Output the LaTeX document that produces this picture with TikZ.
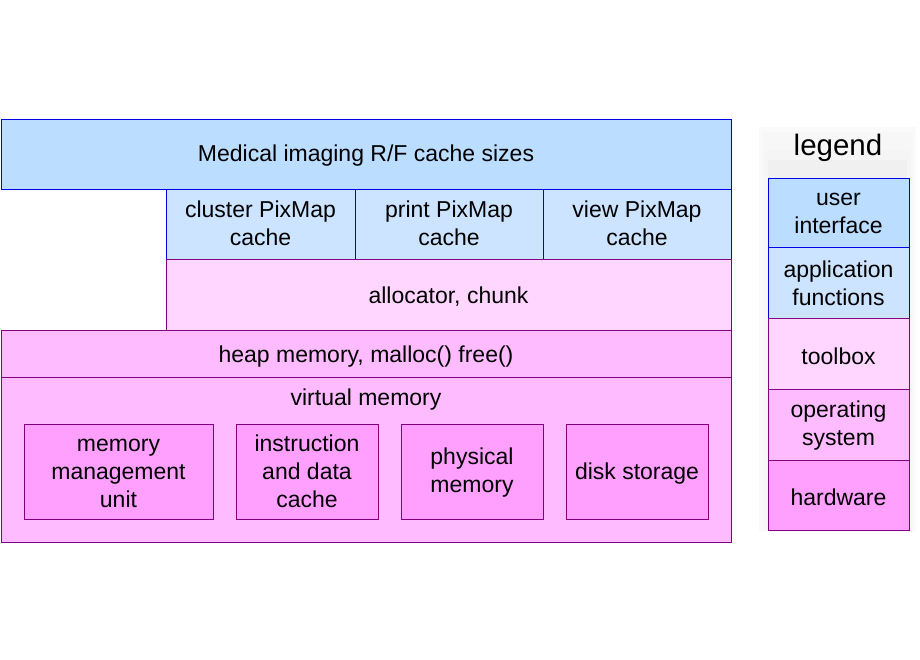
\documentclass[tikz,border=0pt]{standalone}
\usepackage{fontspec}
\setmainfont{Liberation Sans}
\definecolor{uiC}{RGB}{187,221,255}
\definecolor{afC}{RGB}{204,228,255}
\definecolor{tbC}{RGB}{255,214,255}
\definecolor{osC}{RGB}{255,187,255}
\definecolor{hwC}{RGB}{255,160,255}
\definecolor{blueB}{RGB}{0,0,230}
\definecolor{purpB}{RGB}{128,0,128}
\begin{document}
\begin{tikzpicture}[x=1pt,y=-1pt,
  lbl/.style={font=\fontsize{23}{28}\selectfont,align=center,inner sep=0pt,yshift=-2pt},
  ui/.style={draw=blueB,fill=uiC,line width=0.8pt},
  af/.style={draw=blueB,fill=afC,line width=0.8pt},
  tb/.style={draw=purpB,fill=tbC,line width=0.8pt},
  os/.style={draw=purpB,fill=osC,line width=0.8pt},
  hw/.style={draw=purpB,fill=hwC,line width=0.8pt}]
\useasboundingbox (0,0) rectangle (920,660);
% legend shadow
\fill[black!2] (759,127) rectangle (916,532);
\fill[black!3] (762,132) rectangle (913,530);
\fill[black!4] (765,150) rectangle (910,175);
\fill[black!6] (768,160) rectangle (907,178);
% main stack
\draw[ui] (1,119) rectangle (731,189);
\node[lbl] (med) at (366,154) {Medical imaging R/F cache sizes};
\draw[af] (166,189) rectangle (355,259);
\node[lbl] (clu) at (260.5,221.5) {cluster PixMap\\cache};
\draw[af] (355,189) rectangle (543,259);
\node[lbl] (pri) at (449,221.5) {print PixMap\\cache};
\draw[af] (543,189) rectangle (731,259);
\node[lbl] (vie) at (637,221.5) {view PixMap\\cache};
\draw[tb] (166,259) rectangle (731,330);
\node[lbl] (all) at (448.5,295) {allocator, chunk};
\draw[os] (1,330) rectangle (731,377);
\node[lbl] (hea) at (366,354.5) {heap memory, malloc() free()};
\draw[os] (1,377) rectangle (731,542);
\node[lbl] (vir) at (366,398) {virtual memory};
\draw[hw] (24,424) rectangle (213,519);
\node[lbl] (mmu) at (118.5,471.5) {memory\\management\\unit};
\draw[hw] (236,424) rectangle (378,519);
\node[lbl] (idc) at (307,469.5) {instruction\\and data\\cache};
\draw[hw] (401,424) rectangle (543,519);
\node[lbl] (phy) at (472,470.5) {physical\\memory};
\draw[hw] (566,424) rectangle (708,519);
\node[lbl] (dis) at (637,472) {disk storage};
% legend
\node[font=\fontsize{29.5}{34}\selectfont,inner sep=0pt] (leg) at (838,148) {legend};
\draw[ui] (768,178) rectangle (909,247);
\node[lbl] (lui) at (838.5,211.5) {user\\interface};
\draw[af] (768,247) rectangle (909,318);
\node[lbl] (laf) at (838.5,281) {application\\functions};
\draw[tb] (768,318) rectangle (909,389);
\node[lbl] (ltb) at (838.5,354) {toolbox};
\draw[os] (768,389) rectangle (909,460);
\node[lbl] (los) at (838.5,424) {operating\\system};
\draw[hw] (768,460) rectangle (909,530);
\node[lbl] (lhw) at (838.5,495.5) {hardware};
\end{tikzpicture}
\end{document}
